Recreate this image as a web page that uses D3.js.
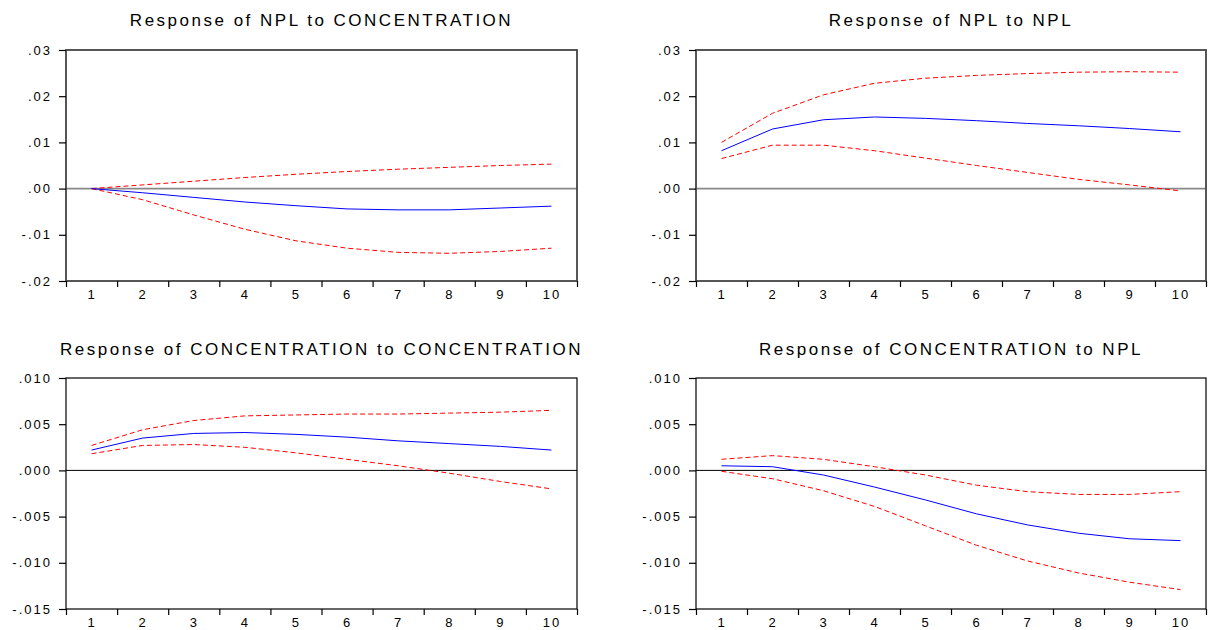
<!DOCTYPE html>
<html>
<head>
<meta charset="utf-8">
<script src="https://cdn.jsdelivr.net/npm/d3@7"></script>
<style>
    body { margin: 0; background: #fff; }
    text { font-family: "Liberation Sans", Arial, sans-serif; fill: #000; }
</style>
</head>
<body>
<div id="my_dataviz"></div>
<script>

    // periods 1..10
    const periods = [1, 2, 3, 4, 5, 6, 7, 8, 9, 10];

    // Response of NPL to CONCENTRATION
    const nplConc = [0.0000, -0.0009, -0.0019, -0.0029, -0.0037, -0.0044, -0.0046, -0.0046, -0.0042, -0.0038];
    const nplConcUp = [0.0000, 0.0008, 0.0016, 0.0024, 0.0031, 0.0037, 0.0042, 0.0046, 0.0050, 0.0053];
    const nplConcLo = [0.0000, -0.0024, -0.0057, -0.0088, -0.0113, -0.0129, -0.0138, -0.0140, -0.0136, -0.0129];

    // Response of NPL to NPL
    const nplNpl = [0.0082, 0.0129, 0.0149, 0.0155, 0.0152, 0.0147, 0.0141, 0.0136, 0.0130, 0.0123];
    const nplNplUp = [0.0100, 0.0163, 0.0203, 0.0228, 0.0239, 0.0245, 0.0249, 0.0252, 0.0253, 0.0252];
    const nplNplLo = [0.0065, 0.0094, 0.0094, 0.0082, 0.0066, 0.0050, 0.0035, 0.0020, 0.0008, -0.0005];

    // Response of CONCENTRATION to CONCENTRATION
    const concConc = [0.0022, 0.0035, 0.0040, 0.0041, 0.0039, 0.0036, 0.0032, 0.0029, 0.0026, 0.0022];
    const concConcUp = [0.0027, 0.0044, 0.0054, 0.0059, 0.0060, 0.0061, 0.0061, 0.0062, 0.0063, 0.0065];
    const concConcLo = [0.0018, 0.0027, 0.0028, 0.0025, 0.0019, 0.0012, 0.0005, -0.0003, -0.0012, -0.0020];

    // Response of CONCENTRATION to NPL
    const concNpl = [0.0005, 0.0004, -0.0005, -0.0018, -0.0032, -0.0047, -0.0059, -0.0068, -0.0074, -0.0076];
    const concNplUp = [0.0012, 0.0016, 0.0012, 0.0004, -0.0005, -0.0016, -0.0023, -0.0026, -0.0026, -0.0023];
    const concNplLo = [-0.0001, -0.0009, -0.0022, -0.0039, -0.0060, -0.0081, -0.0098, -0.0111, -0.0121, -0.0129];

    // tick labels
    const ticksNpl = [-0.02, -0.01, 0, 0.01, 0.02, 0.03];
    const ticksConc = [-0.015, -0.010, -0.005, 0, 0.005, 0.010];

    const width = 1208, height = 630;

    const svg = d3.select("#my_dataviz")
        .append("svg")
        .attr("width", width)
        .attr("height", height);

    const panels = [
        { title: "Response of NPL to CONCENTRATION", mid: nplConc, up: nplConcUp, lo: nplConcLo,
          ticks: ticksNpl, digits: 2, left: 66, right: 577, top: 50, bottom: 281, titleY: 26, frame: "#444", zero: "#888" },
        { title: "Response of NPL to NPL", mid: nplNpl, up: nplNplUp, lo: nplNplLo,
          ticks: ticksNpl, digits: 2, left: 696, right: 1206, top: 50, bottom: 281, titleY: 26, frame: "#444", zero: "#888" },
        { title: "Response of CONCENTRATION to CONCENTRATION", mid: concConc, up: concConcUp, lo: concConcLo,
          ticks: ticksConc, digits: 3, left: 66, right: 577, top: 378, bottom: 609, titleY: 355, frame: "#000", zero: "#000" },
        { title: "Response of CONCENTRATION to NPL", mid: concNpl, up: concNplUp, lo: concNplLo,
          ticks: ticksConc, digits: 3, left: 696, right: 1206, top: 378, bottom: 609, titleY: 355, frame: "#000", zero: "#000" }
    ];

    // eviews style: drop the leading zero
    function fmt(digits) {
        return v => {
            let s = Math.abs(v).toFixed(digits).replace(/^0/, "");
            return (v < 0 ? "-" : "") + s;
        };
    }

    panels.forEach(p => {
        const x = d3.scaleLinear()
            .domain([0.5, 10.5])
            .range([p.left, p.right]);

        const y = d3.scaleLinear()
            .domain(d3.extent(p.ticks))
            .range([p.bottom, p.top]);

        const g = svg.append("g");

        // title
        g.append("text")
            .attr("x", (p.left + p.right) / 2)
            .attr("y", p.titleY)
            .attr("text-anchor", "middle")
            .style("font-size", "17px")
            .style("letter-spacing", "2.5px")
            .text(p.title);

        // zero line
        g.append("line")
            .attr("x1", p.left)
            .attr("x2", p.right)
            .attr("y1", y(0))
            .attr("y2", y(0))
            .attr("stroke", p.zero)
            .attr("stroke-width", p.zero === "#000" ? 1 : 1.6);

        // frame
        g.append("rect")
            .attr("x", p.left)
            .attr("y", p.top)
            .attr("width", p.right - p.left)
            .attr("height", p.bottom - p.top)
            .attr("fill", "none")
            .attr("stroke", p.frame)
            .attr("stroke-width", p.frame === "#000" ? 1.2 : 1.8);

        // Y axis
        const yAxis = g.append("g")
            .attr("transform", `translate(${p.left},0)`)
            .call(d3.axisLeft(y).tickValues(p.ticks).tickFormat(fmt(p.digits)).tickSize(7).tickPadding(7));
        yAxis.select(".domain").remove();

        // X axis: tick marks between periods
        const xEdges = g.append("g")
            .attr("transform", `translate(0,${p.bottom})`)
            .call(d3.axisBottom(x).tickValues(d3.range(0.5, 11, 1)).tickFormat("").tickSize(6));
        xEdges.select(".domain").remove();

        const xLabels = g.append("g")
            .attr("transform", `translate(0,${p.bottom})`)
            .call(d3.axisBottom(x).tickValues(periods).tickFormat(d3.format("d")).tickSize(0).tickPadding(9));
        xLabels.select(".domain").remove();

        g.selectAll(".tick line").attr("stroke", "#000").attr("stroke-width", 1.2);
        g.selectAll(".tick text")
            .style("font-size", "13px")
            .style("letter-spacing", "2px")
            .attr("fill", "#000");

        const line = d3.line()
            .x((d, i) => x(periods[i]))
            .y(d => y(d));

        // bands
        [p.up, p.lo].forEach(s => {
            g.append("path")
                .datum(s)
                .attr("fill", "none")
                .attr("stroke", "#ff0000")
                .attr("stroke-width", 1)
                .attr("stroke-dasharray", "5,3")
                .attr("d", line);
        });

        // response
        g.append("path")
            .datum(p.mid)
            .attr("fill", "none")
            .attr("stroke", "#0000ff")
            .attr("stroke-width", 1)
            .attr("d", line);
    });

</script>
</body>
</html>
